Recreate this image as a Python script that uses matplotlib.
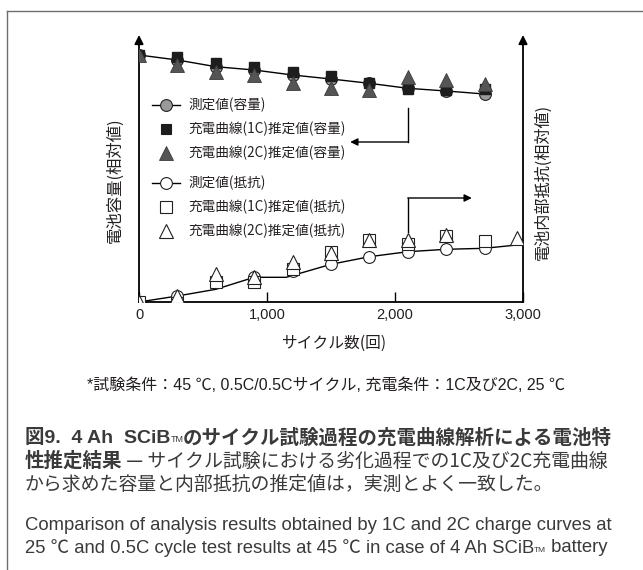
import matplotlib
matplotlib.use("Agg")
import matplotlib.pyplot as plt
from matplotlib import font_manager
from matplotlib.text import Annotation

JP = "Noto Sans CJK JP"
avail = {f.name for f in font_manager.fontManager.ttflist}
NARROW = "Liberation Sans Narrow" if "Liberation Sans Narrow" in avail else "Liberation Sans"

# ---------------- data ----------------
cycles = [0, 300, 600, 900, 1200, 1500, 1800, 2100, 2400, 2700]
cap_measured = [247, 242, 235.3, 232, 227, 223, 218.7, 213.7, 211, 208]
cap_1c = [247, 245.3, 239.3, 234.7, 230.3, 226, 219.3, 213, 212, 213]
cap_2c = [247, 237, 230.3, 227, 218.7, 214.3, 212, 225.3, 222, 218]

res_cycles_measured = [0, 300, 600, 900, 1150, 1500, 1800, 2100, 2400, 2700, 2950]
res_measured_line = [0, 6, 12.7, 24.7, 24.7, 37.7, 45.3, 50.3, 52.7, 53.7, 57]
res_cycles_circle = [0, 300, 900, 1200, 1500, 1800, 2100, 2400, 2700]
res_measured = [0, 6, 24.7, 31, 37.7, 45.3, 50.3, 52.7, 53.7]
res_cycles_1c = [0, 300, 600, 900, 1200, 1500, 1800, 2100, 2400, 2700]
res_1c = [0, -1, 19.7, 19.7, 33, 50, 62, 58, 66, 61.3]
res_cycles_2c = [0, 300, 600, 900, 1200, 1500, 1800, 2100, 2400, 2950]
res_2c = [0, 6, 28, 24.7, 40.3, 49, 62, 62, 67, 63.7]

xticks = [0, 1000, 2000, 3000]
xticklabels = ["0", "1,000", "2,000", "3,000"]

legend_labels = ["測定値(容量)", "充電曲線(1C)推定値(容量)", "充電曲線(2C)推定値(容量)",
                 "測定値(抵抗)", "充電曲線(1C)推定値(抵抗)", "充電曲線(2C)推定値(抵抗)"]

W, H = 643, 570
fig = plt.figure(figsize=(W / 100, H / 100), dpi=100)
TXT = "#231f20"

def fx(px):
    return px / W

def fy(py):
    return 1 - py / H

# frame
fig.add_artist(plt.Line2D([fx(7), fx(7)], [fy(10.5), 0], color="#6d6d6d", lw=1.0))
fig.add_artist(plt.Line2D([fx(7), 1], [fy(10.5), fy(10.5)], color="#6d6d6d", lw=1.0))

ax = fig.add_axes([fx(139), fy(302), fx(523) - fx(139), fy(35) - fy(302)])
ax.set_xlim(0, 3000)
ax.set_ylim(0, 267)
ax2 = ax.twinx()
ax2.set_ylim(0, 267)
for a in (ax, ax2):
    for s in ("top", "left", "right"):
        a.spines[s].set_visible(False)
    a.patch.set_visible(False)
ax.spines["bottom"].set_linewidth(1.3)
ax.spines["bottom"].set_color("k")
ax2.spines["bottom"].set_visible(False)
ax.set_yticks([])
ax2.set_yticks([])
ax.set_xticks(xticks)
ax.set_xticklabels(xticklabels, family=[NARROW, JP], fontsize=10.5, color=TXT)
ax.tick_params(axis="x", direction="in", length=7.5, width=1.0, pad=4)

# axis arrows
for xa in (0, 1):
    ax.annotate("", xy=(xa, 1.0), xycoords="axes fraction", xytext=(xa, 0),
                textcoords="axes fraction",
                arrowprops=dict(arrowstyle="-|>", color="k", lw=1.3,
                                mutation_scale=13, shrinkA=0, shrinkB=0))

ms_c, ms_s, ms_t = 8.5, 7.0, 9.5
# capacity (left axis)
ax.plot(cycles, cap_measured, color="k", lw=1.0, zorder=2)
ax.plot(cycles, cap_measured, ls="none", marker="o", ms=ms_c, mfc="#9a9a9a",
        mec="#222", mew=0.8, zorder=3)
ax.plot(cycles, cap_1c, ls="none", marker="s", ms=ms_s, mfc="#1d1d1d",
        mec="#1d1d1d", zorder=4)
ax.plot(cycles, cap_2c, ls="none", marker="^", ms=ms_t, mfc="#555555",
        mec="#3a3a3a", mew=0.6, zorder=5)

# resistance (right axis)
ax2.plot(res_cycles_measured, res_measured_line, color="k", lw=1.0, zorder=2)
ax2.plot(res_cycles_circle, res_measured, ls="none", marker="o", ms=ms_c, mfc="white",
         mec="#222", mew=0.8, zorder=3)
ax2.plot(res_cycles_1c, res_1c, ls="none", marker="s", ms=ms_s + 1, mfc="white",
         mec="#222", mew=0.8, zorder=4)
ax2.plot(res_cycles_2c, res_2c, ls="none", marker="^", ms=ms_t, mfc="white",
         mec="#222", mew=0.8, zorder=5)

# pointer arrows
ax.plot([2100, 2100], [194, 160], color="k", lw=1.0)
ax.annotate("", xy=(1650, 160), xytext=(2100, 160),
            arrowprops=dict(arrowstyle="-|>", color="k", lw=1.0, mutation_scale=11,
                            shrinkA=0, shrinkB=0))
ax2.plot([2100, 2100], [70, 104], color="k", lw=1.0)
ax2.annotate("", xy=(2600, 104), xytext=(2100, 104),
             arrowprops=dict(arrowstyle="-|>", color="k", lw=1.0, mutation_scale=11,
                             shrinkA=0, shrinkB=0))

# legend (manual)
leg_rows_y = [105, 129, 153, 183, 207, 231]
styles = [
    dict(marker="o", ms=ms_c, mfc="#9a9a9a", mec="#222", mew=0.8, line=True),
    dict(marker="s", ms=ms_s, mfc="#1d1d1d", mec="#1d1d1d", mew=0.8, line=False),
    dict(marker="^", ms=ms_t, mfc="#555555", mec="#3a3a3a", mew=0.6, line=False),
    dict(marker="o", ms=ms_c, mfc="white", mec="#222", mew=0.8, line=True),
    dict(marker="s", ms=ms_s + 1, mfc="white", mec="#222", mew=0.8, line=False),
    dict(marker="^", ms=ms_t, mfc="white", mec="#222", mew=0.8, line=False),
]
for label, yy, st in zip(legend_labels, leg_rows_y, styles):
    if st["line"]:
        fig.add_artist(plt.Line2D([fx(152), fx(180)], [fy(yy), fy(yy)], color="k", lw=1.0))
    fig.add_artist(plt.Line2D([fx(166)], [fy(yy)], ls="none", marker=st["marker"],
                              ms=st["ms"], mfc=st["mfc"], mec=st["mec"], mew=st["mew"]))
    fig.text(fx(188), fy(yy), label, family=[JP], fontsize=9.8, color=TXT,
             ha="left", va="center")

# axis labels
fig.text(fx(335), fy(343), "サイクル数(回)", family=[JP], fontsize=11.3, color=TXT,
         ha="center", va="center")
fig.text(fx(115), fy(180), "電池容量(相対値)", family=[JP], fontsize=11.8, color=TXT,
         ha="center", va="center", rotation=90)
fig.text(fx(543), fy(182), "電池内部抵抗(相対値)", family=[JP], fontsize=11.6, color=TXT,
         ha="center", va="center", rotation=90)

# footnote
fig.text(fx(326), fy(385), "*試験条件：45 ℃, 0.5C/0.5Cサイクル, 充電条件：1C及び2C, 25 ℃",
         family=[NARROW, JP], fontsize=11.5, color=TXT, ha="center", va="center")

# caption
CAP = "#3a3a3a"
t1 = fig.text(fx(25), fy(438), "図9.  4 Ah  SCiB", family=["Liberation Sans", JP],
              fontsize=14, fontweight="bold", color=CAP, ha="left", va="center")
fig.add_artist(Annotation("TM", xy=(1, 0.18), xycoords=t1,
                          ha="left", va="bottom", fontsize=6.5,
                          family=["Liberation Sans"], color=CAP))
fig.add_artist(Annotation(
    "のサイクル試験過程の充電曲線解析による電池特", xy=(1, 0.5), xycoords=t1,
    xytext=(12, 0), textcoords="offset pixels",
    ha="left", va="center", fontsize=14, fontweight="bold", family=[JP], color=CAP))
t2 = fig.text(fx(25), fy(461), "性推定結果", family=[JP], fontsize=14,
              fontweight="bold", color=CAP, ha="left", va="center")
fig.add_artist(Annotation(
    " — サイクル試験における劣化過程での1C及び2C充電曲線", xy=(1, 0.5), xycoords=t2,
    ha="left", va="center", fontsize=13.6, family=[JP], color=CAP))
fig.text(fx(25), fy(484), "から求めた容量と内部抵抗の推定値は，実測とよく一致した。",
         family=[JP], fontsize=13.6, color=CAP, ha="left", va="center")

fig.text(fx(25), fy(525),
         "Comparison of analysis results obtained by 1C and 2C charge curves at",
         family=[NARROW, JP], fontsize=13.3, color=CAP, ha="left", va="center")
e2 = fig.text(fx(25), fy(548), "25 ℃ and 0.5C cycle test results at 45 ℃ in case of 4 Ah SCiB",
              family=[NARROW, JP], fontsize=13.3, color=CAP, ha="left", va="center")
fig.add_artist(Annotation("TM", xy=(1, 0.18), xycoords=e2,
                          ha="left", va="bottom", fontsize=6,
                          family=[NARROW], color=CAP))
fig.add_artist(Annotation(" battery", xy=(1, 0.5), xycoords=e2,
                          xytext=(12, 0), textcoords="offset pixels",
                          ha="left", va="center", fontsize=13.3,
                          family=[NARROW, JP], color=CAP))

fig.savefig("out.png", dpi=100)
